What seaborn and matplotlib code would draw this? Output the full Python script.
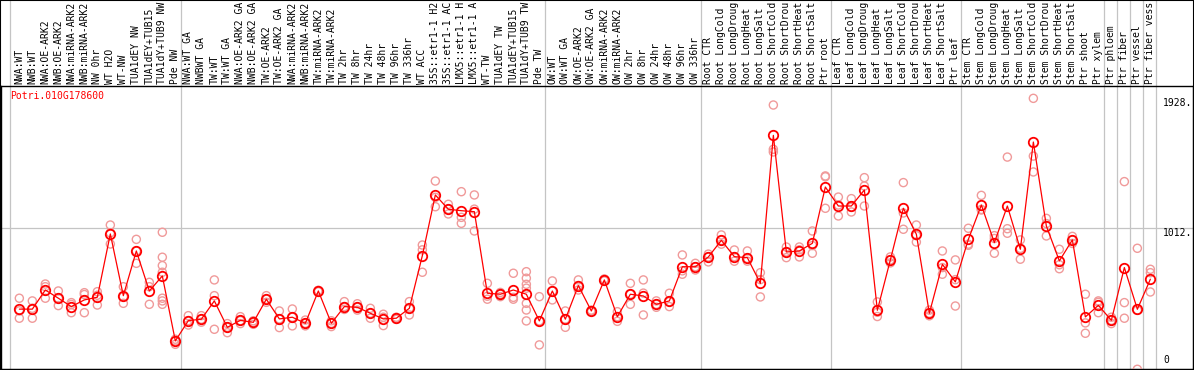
import numpy as np
import pandas as pd
import matplotlib
matplotlib.use("Agg")
import matplotlib.pyplot as plt
import matplotlib.transforms as mtransforms
from matplotlib.patches import Rectangle
import seaborn as sns

gene = "Potri.010G178600"

labels = ["NWA:WT", "NWB:WT", "NWA:OE-ARK2", "NWB:OE-ARK2", "NWA:miRNA-ARK2",
          "NWB:miRNA-ARK2", "NW 0hr", "WT H2O", "WT-NW", "TUA1dEY NW",
          "TUA1dEY+TUB15", "TUA1dY+TUB9 NW", "Pde NW",
          "NWA:WT GA", "NWBWT GA", "TW:WT", "TW:WT GA", "NWA:OE-ARK2 GA",
          "NWB:OE-ARK2 GA", "TW:OE-ARK2", "TW:OE-ARK2 GA", "NWA:miRNA-ARK2",
          "NWB:miRNA-ARK2", "TW:miRNA-ARK2", "TW:miRNA-ARK2", "TW 2hr", "TW 8hr",
          "TW 24hr", "TW 48hr", "TW 96hr", "TW 336hr", "WT ACC", "35S::etr1-1 H2",
          "35S::etr1-1 AC", "LMX5::etr1-1 H", "LMX5::etr1-1 A", "WT-TW",
          "TUA1dEY TW", "TUA1dEY+TUB15", "TUA1dY+TUB9 TW", "Pde TW",
          "OW:WT", "OW:WT GA", "OW:OE-ARK2", "OW:OE-ARK2 GA", "OW:miRNA-ARK2",
          "OW:miRNA-ARK2", "OW 2hr", "OW 8hr", "OW 24hr", "OW 48hr", "OW 96hr",
          "OW 336hr",
          "Root CTR", "Root LongCold", "Root LongDroug", "Root LongHeat",
          "Root LongSalt", "Root ShortCold", "Root ShortDrou", "Root ShortHeat",
          "Root ShortSalt", "Ptr root",
          "Leaf CTR", "Leaf LongCold", "Leaf LongDroug", "Leaf LongHeat",
          "Leaf LongSalt", "Leaf ShortCold", "Leaf ShortDrou", "Leaf ShortHeat",
          "Leaf ShortSalt", "Ptr leaf",
          "Stem CTR", "Stem LongCold", "Stem LongDroug", "Stem LongHeat",
          "Stem LongSalt", "Stem ShortCold", "Stem ShortDrou", "Stem ShortHeat",
          "Stem ShortSalt", "Ptr shoot", "Ptr xylem",
          "Ptr phloem", "Ptr fiber", "Ptr vessel", "Ptr fiber vess"]

# samples per block (separated by grey lines)
group_sizes = [13, 28, 12, 10, 10, 11, 1, 1, 1, 1]

means = [442, 442, 577, 519, 460, 507, 526, 972, 537, 852, 570, 676, 218,
         361, 371, 500, 314, 363, 349, 512, 373, 385, 342, 570, 342, 460, 455,
         413, 373, 378, 448, 819, 1247, 1146, 1136, 1129, 554, 547, 577, 547, 359,
         570, 371, 608, 429, 648, 389, 547, 535, 476, 500, 741, 741,
         810, 927, 812, 805, 624, 1667, 845, 852, 906, 1303,
         1169, 1169, 1282, 434, 789, 1153, 970, 413, 758, 634,
         934, 1176, 911, 1169, 864, 1620, 1028, 782, 930, 387, 469,
         363, 735, 441, 653]

reps = [[519, 430, 378], [500, 448, 378], [619, 600, 519], [570, 519, 467],
        [488, 475, 417], [558, 545, 417], [565, 540, 471], [1035, 980, 901],
        [600, 530, 483], [934, 852, 765], [631, 600, 476],
        [984, 808, 749, 702, 519, 500, 476], [230, 218, 194],
        [396, 361, 330], [396, 371, 350], [648, 537, 300], [340, 314, 276],
        [389, 361, 340], [360, 349, 335], [537, 512, 490], [429, 373, 312],
        [443, 385, 324], [365, 342, 324], [575, 570, 565], [360, 342, 319],
        [495, 460, 440], [480, 455, 435], [448, 413, 378], [406, 385, 326],
        [385, 378, 370], [495, 448, 401], [894, 860, 702], [1345, 1230, 1164],
        [1181, 1146, 1113], [1270, 1089, 1047], [1247, 1147, 993],
        [624, 533, 512], [560, 547, 530], [695, 525, 512],
        [706, 660, 617, 590, 483, 436, 359], [530, 359, 190],
        [641, 570, 507], [429, 371, 314], [648, 608, 577], [435, 429, 423],
        [655, 648, 641], [424, 389, 356], [624, 547, 476], [648, 555, 401],
        [500, 476, 455], [554, 495, 460], [824, 712, 688], [765, 741, 718],
        [830, 810, 775], [965, 927, 900], [859, 812, 780], [852, 800, 780],
        [699, 650, 528], [1881, 1569, 1550], [880, 845, 805], [880, 860, 810],
        [993, 890, 836], [1381, 1375, 1153],
        [1232, 1176, 1099], [1221, 1160, 1127], [1369, 1310, 1169],
        [493, 420, 390], [810, 789, 768], [1334, 1120, 1005], [1035, 960, 915],
        [435, 413, 395], [852, 735, 688], [789, 650, 464],
        [1012, 900, 892], [1244, 1145, 1141], [960, 940, 836], [1514, 1009, 977],
        [930, 870, 794], [1928, 1521, 1409], [1082, 1045, 958], [864, 755, 727],
        [955, 930, 905], [547, 345, 272], [500, 490, 417],
        [385, 363, 340], [1341, 488, 378], [871, 434, 18], [723, 699, 563]]

axis_marks = [1928, 1012]

pos = np.arange(len(labels))
df_mean = pd.DataFrame({"x": pos, "value": means})
df_rep = pd.DataFrame([(i, v) for i, r in enumerate(reps) for v in r],
                      columns=["x", "value"])

sns.set_theme(style="white")
plt.rcParams["font.family"] = ["DejaVu Sans Mono"]

W, H = 1194, 370
fig = plt.figure(figsize=(W / 100, H / 100), dpi=100)
ax = fig.add_axes([1 / W, 1 / H, 1192 / W, 283 / H])

# grey separators, running up through the label strip
ends = np.cumsum(group_sizes) - 1
for b in [-1] + list(ends):
    xb = b + 0.4 if b >= 0 else -0.68
    ax.axvline(xb, ymin=0, ymax=1 + 88 / 283, color="#c4c4c4", lw=0.9,
               clip_on=False, zorder=1)
ax.axhline(axis_marks[1], color="#c4c4c4", lw=0.9, zorder=1)

sns.scatterplot(data=df_rep, x="x", y="value", marker="o", s=34,
                facecolor="none", edgecolor="#f09a9a", linewidth=1.0,
                legend=False, ax=ax, zorder=3)
sns.lineplot(data=df_mean, x="x", y="value", color="red", lw=0.9,
             marker="o", markersize=6.8, markerfacecolor="none",
             markeredgecolor="red", markeredgewidth=1.3, ax=ax, zorder=4)

ax.set_xlim(-1.41, 90.28)
ax.set_ylim(20, 2015)
ax.set_xticks([])
ax.set_yticks([])
ax.set_xlabel("")
ax.set_ylabel("")
for s in ax.spines.values():
    s.set_color("black")
    s.set_linewidth(1.0)

trans = mtransforms.blended_transform_factory(ax.transData, ax.transAxes)
for i, name in enumerate(labels):
    ax.text(i, 1 + 2 / 283, name, transform=trans, rotation=90, ha="center",
            va="bottom", fontsize=7, color="black", clip_on=False)

ax.text(-0.72, 1 - 5 / 283, gene, transform=trans, ha="left", va="top",
        fontsize=7, color="red")

for m in axis_marks:
    ax.text(88.0, m, f"{m}.", ha="left", va="top", fontsize=7, color="black")
ax.text(88.0, 45, "0", ha="left", va="bottom", fontsize=7, color="black")

fig.patches.append(Rectangle((0, 0), 1, 1, transform=fig.transFigure,
                             fill=False, ec="black", lw=1.5))

fig.savefig("out.png", dpi=100)
